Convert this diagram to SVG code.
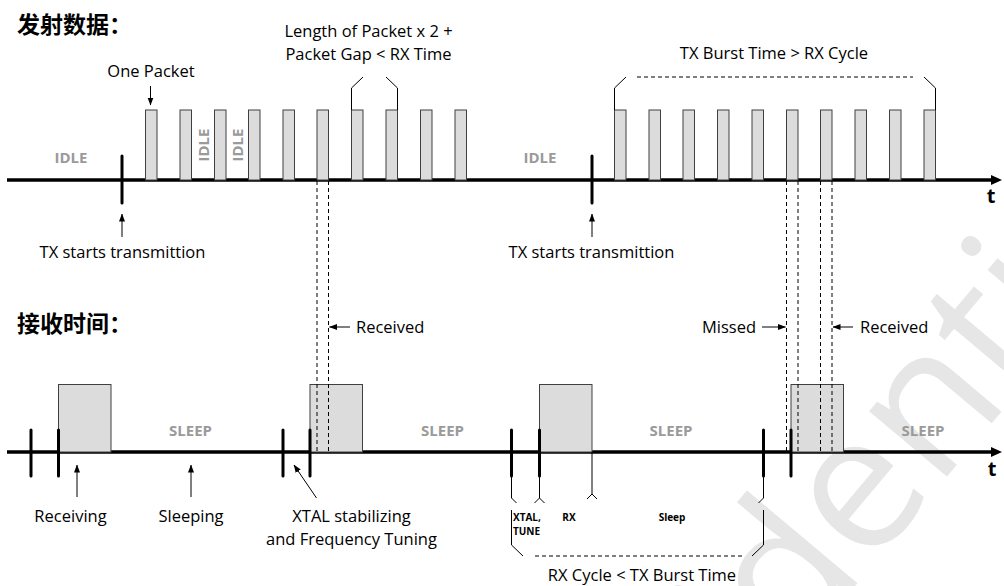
<svg xmlns="http://www.w3.org/2000/svg" width="1004" height="586" viewBox="0 0 1004 586">
<style>
.lbl{font-family:"Open Sans","Liberation Sans",sans-serif;font-size:16.5px;fill:#000}
.st{font-family:"Open Sans","Liberation Sans",sans-serif;font-size:15px;font-weight:bold;fill:#9a9a9a}
.sm{font-family:"Open Sans","Liberation Sans",sans-serif;font-size:10px;font-weight:bold;fill:#000}
.ttl{font-family:"Noto Sans CJK SC","Noto Sans",sans-serif;font-size:23px;font-weight:bold;fill:#000}
.tt{font-family:"Open Sans","Liberation Sans",sans-serif;font-size:20px;font-weight:bold;fill:#000}
.pk{fill:#dcdcdc;stroke:#404040;stroke-width:1}
.rx{fill:#dcdcdc;stroke:#404040;stroke-width:1}
.axis{stroke:#000;stroke-width:3.5;fill:none}
.tick{stroke:#000;stroke-width:3;stroke-linecap:round;fill:none}
.thin{stroke:#000;stroke-width:1;fill:none}
.dash{stroke:#000;stroke-width:1;stroke-dasharray:4 3;fill:none}
.arr{stroke:#000;stroke-width:1;fill:none;marker-end:url(#ah)}
.wm{font-family:"Open Sans","Liberation Sans",sans-serif;font-size:190px;fill:#e6e6e6}
</style>
<defs>
<marker id="ah" markerUnits="userSpaceOnUse" markerWidth="8" markerHeight="8" viewBox="0 0 8 8" refX="7.5" refY="4" orient="auto">
<path d="M0,1 L8,4 L0,7 Z" fill="#000"/>
</marker>
<marker id="ax" markerUnits="userSpaceOnUse" markerWidth="12" markerHeight="12" viewBox="0 0 12 12" refX="2" refY="6" orient="auto">
<path d="M0,1 L11,6 L0,11 Z" fill="#000"/>
</marker>
</defs>
<rect x="0" y="0" width="1004" height="586" fill="#fff"/>
<text class="wm" transform="translate(496,1014) rotate(-50)">Confidential</text>

<g id="titles">
<text class="ttl" x="17" y="33">发射数据：</text>
<text class="ttl" x="17" y="332">接收时间：</text>
</g>

<g id="tx-axis">
<line class="axis" x1="7" y1="180" x2="993" y2="180" marker-end="url(#ax)"/>
<text class="tt" x="991" y="203" text-anchor="middle">t</text>
</g>
<g id="rx-axis">
<line class="axis" x1="7" y1="452" x2="993" y2="452" marker-end="url(#ax)"/>
<text class="tt" x="992" y="476" text-anchor="middle">t</text>
</g>

<g id="idle-labels">
<text class="st" x="71" y="163" text-anchor="middle">IDLE</text>
<text class="st" x="540" y="163" text-anchor="middle">IDLE</text>
<text class="st" transform="translate(208.5,145) rotate(-90)" text-anchor="middle">IDLE</text>
<text class="st" transform="translate(242.5,145) rotate(-90)" text-anchor="middle">IDLE</text>
</g>

<g id="burst1">
<rect class="pk" x="145.5" y="110" width="11.5" height="70"/>
<rect class="pk" x="180" y="110" width="11.5" height="70"/>
<rect class="pk" x="214.5" y="110" width="11.5" height="70"/>
<rect class="pk" x="248.5" y="110" width="11.5" height="70"/>
<rect class="pk" x="283" y="110" width="11.5" height="70"/>
<rect class="pk" x="317" y="110" width="11.5" height="70"/>
<rect class="pk" x="351.5" y="110" width="11.5" height="70"/>
<rect class="pk" x="386" y="110" width="11.5" height="70"/>
<rect class="pk" x="420.5" y="110" width="11.5" height="70"/>
<rect class="pk" x="455" y="110" width="11.5" height="70"/>
</g>
<g id="burst2">
<rect class="pk" x="614.5" y="110" width="11.5" height="70"/>
<rect class="pk" x="649" y="110" width="11.5" height="70"/>
<rect class="pk" x="683" y="110" width="11.5" height="70"/>
<rect class="pk" x="717.5" y="110" width="11.5" height="70"/>
<rect class="pk" x="752" y="110" width="11.5" height="70"/>
<rect class="pk" x="786.5" y="110" width="11.5" height="70"/>
<rect class="pk" x="820.5" y="110" width="11.5" height="70"/>
<rect class="pk" x="855" y="110" width="11.5" height="70"/>
<rect class="pk" x="889.5" y="110" width="11.5" height="70"/>
<rect class="pk" x="924" y="110" width="11.5" height="70"/>
</g>

<g id="one-packet">
<text class="lbl" x="151" y="77" text-anchor="middle">One Packet</text>
</g>
<g id="len-note">
<text class="lbl" x="368.5" y="37" text-anchor="middle">Length of Packet x 2 +</text>
<text class="lbl" x="368.5" y="60" text-anchor="middle">Packet Gap &lt; RX Time</text>
</g>
<g id="burst-note">
<text class="lbl" x="774" y="59" text-anchor="middle">TX Burst Time &gt; RX Cycle</text>
</g>
<g id="tx-start1">
<line class="tick" x1="122" y1="156" x2="122" y2="203"/>
<text class="lbl" x="122.5" y="258" text-anchor="middle">TX starts transmittion</text>
</g>
<g id="tx-start2">
<line class="tick" x1="592" y1="156" x2="592" y2="203"/>
<text class="lbl" x="591.5" y="258" text-anchor="middle">TX starts transmittion</text>
</g>

<g id="rx-boxes">
<rect class="rx" x="58.5" y="384.5" width="52.5" height="67.5"/>
<rect class="rx" x="310" y="384.5" width="52.5" height="67.5"/>
<rect class="rx" x="539.5" y="384.5" width="52.5" height="67.5"/>
<rect class="rx" x="791" y="384.5" width="52.5" height="67.5"/>
</g>
<g id="rx-ticks">
<line class="tick" x1="31" y1="430" x2="31" y2="476"/>
<line class="tick" x1="58.5" y1="430" x2="58.5" y2="476"/>
<line class="tick" x1="283" y1="430" x2="283" y2="476"/>
<line class="tick" x1="310" y1="430" x2="310" y2="476"/>
<line class="tick" x1="511.5" y1="430" x2="511.5" y2="476"/>
<line class="tick" x1="539.5" y1="430" x2="539.5" y2="476"/>
<line class="tick" x1="763.5" y1="430" x2="763.5" y2="476"/>
<line class="tick" x1="791" y1="430" x2="791" y2="476"/>
</g>
<g id="sleep-labels">
<text class="st" x="190.5" y="436" text-anchor="middle">SLEEP</text>
<text class="st" x="442.5" y="436" text-anchor="middle">SLEEP</text>
<text class="st" x="671" y="436" text-anchor="middle">SLEEP</text>
<text class="st" x="923" y="436" text-anchor="middle">SLEEP</text>
</g>
<g id="rx-notes">
<text class="lbl" x="70.5" y="522" text-anchor="middle">Receiving</text>
<text class="lbl" x="191" y="522" text-anchor="middle">Sleeping</text>
<text class="lbl" x="351.5" y="522" text-anchor="middle">XTAL stabilizing</text>
<text class="lbl" x="351.5" y="545" text-anchor="middle">and Frequency Tuning</text>
<text class="lbl" x="356" y="333">Received</text>
<text class="lbl" x="756" y="333" text-anchor="end">Missed</text>
<text class="lbl" x="860" y="333">Received</text>
</g>
<g id="cycle-labels">
<text class="sm" x="513" y="520.5">XTAL,</text>
<text class="sm" x="513" y="534.5">TUNE</text>
<text class="sm" x="569" y="520.5" text-anchor="middle">RX</text>
<text class="sm" x="672" y="520.5" text-anchor="middle">Sleep</text>
<text class="lbl" x="642" y="581" text-anchor="middle">RX Cycle &lt; TX Burst Time</text>
</g>

<g id="connectors">
<line class="arr" x1="150.5" y1="86" x2="150.5" y2="105"/>
<line class="arr" x1="122" y1="237" x2="122" y2="214"/>
<line class="arr" x1="592" y1="237" x2="592" y2="214"/>
<path class="thin" d="M351.5,110 V88 L363,77 M397.5,110 V88 L386,77"/>
<path class="thin" d="M614.5,110 V88 L626,77 M935.5,110 V88 L924,77"/>
<line class="dash" x1="637" y1="77" x2="913" y2="77"/>
<line class="dash" x1="317" y1="181" x2="317" y2="452"/>
<line class="dash" x1="328.5" y1="181" x2="328.5" y2="452"/>
<line class="dash" x1="786.5" y1="181" x2="786.5" y2="452"/>
<line class="dash" x1="798" y1="181" x2="798" y2="452"/>
<line class="dash" x1="820.5" y1="181" x2="820.5" y2="452"/>
<line class="dash" x1="832" y1="181" x2="832" y2="452"/>
<line class="arr" x1="350" y1="327" x2="329.5" y2="327"/>
<line class="arr" x1="762" y1="327" x2="785.5" y2="327"/>
<line class="arr" x1="853" y1="327" x2="833" y2="327"/>
<line class="arr" x1="77" y1="497" x2="77" y2="465"/>
<line class="arr" x1="191" y1="497" x2="191" y2="465"/>
<line class="arr" x1="316.5" y1="498" x2="294" y2="465"/>
<path class="thin" d="M511.5,476 V498 L516.5,503 M539.5,476 V498 M534.5,503 L539.5,498 L544.5,503 M592,452 V494 M587,499 L592,494 L597,499 M763.5,476 V498 L758.5,503"/>
<path class="thin" d="M511.5,510 V545 L523,556 M763.5,510 V545 L752,556"/>
<line class="dash" x1="535" y1="556" x2="743" y2="556" stroke-dasharray="5 4"/>
</g>
</svg>
